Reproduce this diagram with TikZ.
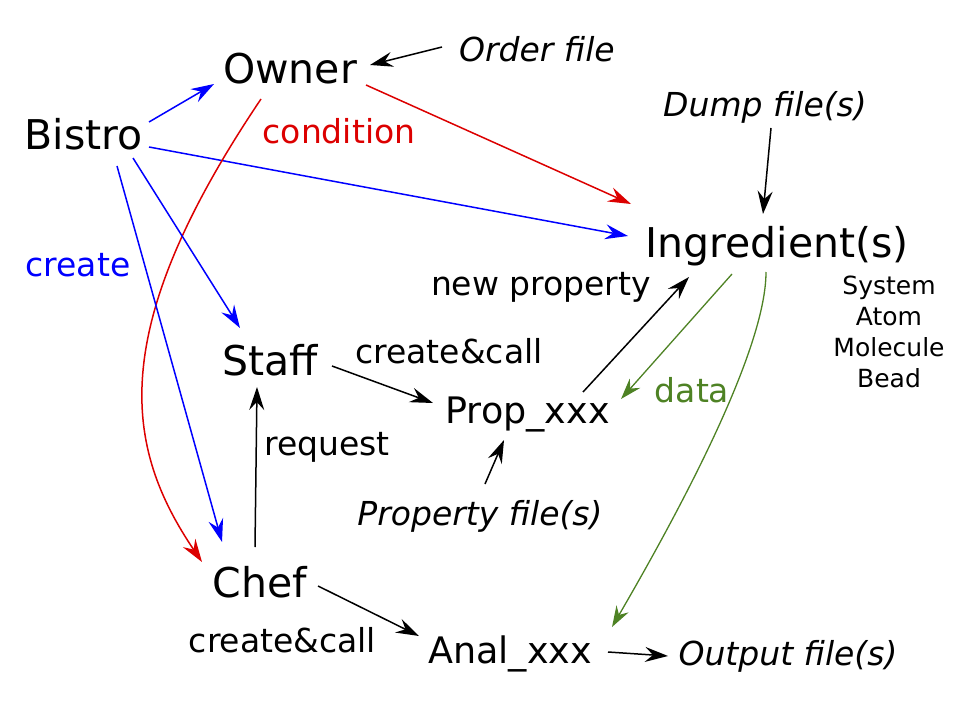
\documentclass[tikz,border=0pt]{standalone}
\usepackage{fontspec}
\setmainfont{DejaVu Sans}
\usetikzlibrary{arrows.meta}
\definecolor{myred}{RGB}{220,0,0}
\definecolor{mygreen}{RGB}{78,130,36}
\definecolor{myblue}{RGB}{0,0,255}
\begin{document}
\begin{tikzpicture}[x=1pt,y=-1pt,
  big/.style={font=\fontsize{41}{48}\selectfont, inner sep=0pt, anchor=base},
  mid/.style={font=\fontsize{36.5}{43}\selectfont, inner sep=0pt, anchor=base},
  lbl/.style={font=\fontsize{33}{39}\selectfont, inner sep=0pt, anchor=base},
  filelbl/.style={font=\fontsize{33}{39}\selectfont\itshape, inner sep=0pt, anchor=base},
  small/.style={font=\fontsize{25}{31}\selectfont, inner sep=0pt, anchor=north, align=center},
  arr/.style={-{Stealth[length=23pt,width=15pt,inset=8pt]}, line width=1.5pt},
  garr/.style={-{Stealth[length=21pt,width=14pt,inset=7pt]}, line width=1.3pt, mygreen}]
\useasboundingbox (0,0) rectangle (974,714);
% main nodes
\node[big] (bistro) at (83.5,150) {Bistro};
\node[big] (owner) at (290,84) {Owner};
\node[big] (ingr) at (777,257) {Ingredient(s)};
\node[big] (staff) at (270,375) {Staff};
\node[big] (chef) at (260,597) {Chef};
\node[mid] (prop) at (527.5,423) {Prop\_xxx};
\node[mid] (anal) at (510,663) {Anal\_xxx};
% file nodes
\node[filelbl] (order) at (537,62) {Order file};
\node[filelbl] (dump) at (765,117) {Dump file(s)};
\node[filelbl] (propfile) at (480,525) {Property file(s)};
\node[filelbl] (output) at (788,665) {Output file(s)};
% labels
\node[lbl, text=myred] (condition) at (339,144) {condition};
\node[lbl, text=myblue] (create) at (78,276) {create};
\node[lbl] (newprop) at (541,295) {new property};
\node[lbl] (cc1) at (449,363) {create\&call};
\node[lbl] (request) at (327,455) {request};
\node[lbl] (cc2) at (282.5,652) {create\&call};
\node[lbl, text=mygreen] (data) at (692,402) {data};
\node[small] (kinds) at (889,276) {System\\Atom\\Molecule\\Bead};
% connectors
\draw[arr,myblue] ([shift={(65.5,-28)}]bistro.base) -- ([shift={(-76,0)}]owner.base);
\draw[arr] ([shift={(-95,-15)}]order.base) -- ([shift={(80,-19)}]owner.base);
\draw[arr,myred] ([shift={(76,1)}]owner.base) -- ([shift={(-146,-53)}]ingr.base);
\draw[arr,myblue] ([shift={(65.5,-3)}]bistro.base) -- ([shift={(-149,-21)}]ingr.base);
\draw[arr] ([shift={(6,11)}]dump.base) -- ([shift={(-14,-43)}]ingr.base);
\draw[arr,myred] ([shift={(-29,15)}]owner.base) .. controls (104,332) and (125,448) .. ([shift={(-58,-35)}]chef.base);
\draw[arr,myblue] ([shift={(33.5,16)}]bistro.base) -- ([shift={(-38,-55)}]chef.base);
\draw[arr,myblue] ([shift={(49.5,8)}]bistro.base) -- ([shift={(-30,-47)}]staff.base);
\draw[arr] ([shift={(-5,-50)}]chef.base) -- ([shift={(-13,12)}]staff.base);
\draw[arr] ([shift={(62,-9)}]staff.base) -- ([shift={(-94.5,-20)}]prop.base);
\draw[arr] ([shift={(55.5,-31)}]prop.base) -- ([shift={(-88,20)}]ingr.base);
\draw[garr] ([shift={(-45,17)}]ingr.base) -- ([shift={(93.5,-24)}]prop.base);
\draw[arr] ([shift={(5,-41)}]propfile.base) -- ([shift={(-23.5,17)}]prop.base);
\draw[garr] ([shift={(-11,15)}]ingr.base) .. controls (766,350) and (680,510) .. ([shift={(102,-36)}]anal.base);
\draw[arr] ([shift={(58,-11)}]chef.base) -- ([shift={(-91,-27)}]anal.base);
\draw[arr] ([shift={(98,-11)}]anal.base) -- ([shift={(-120,-9)}]output.base);
\end{tikzpicture}
\end{document}
